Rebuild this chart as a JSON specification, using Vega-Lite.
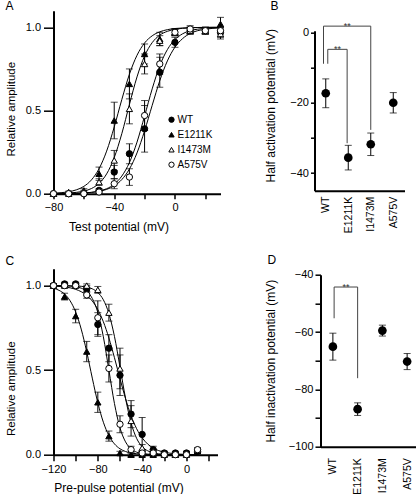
{
  "$schema": "https://vega.github.io/schema/vega-lite/v6.json",
  "autosize": {"type": "none"},
  "padding": {"left": 53.5, "top": 10.7, "right": 362.5, "bottom": 483.3},
  "spacing": 20,
  "datasets": {
    "actPts": [
      {"s":"WT","V":-80,"y":0,"e":0.005},{"s":"WT","V":-70,"y":0,"e":0.005},{"s":"WT","V":-60,"y":0,"e":0.005},{"s":"WT","V":-50,"y":0.02,"e":0.01},{"s":"WT","V":-40,"y":0.13,"e":0.04},{"s":"WT","V":-30,"y":0.24,"e":0.06},{"s":"WT","V":-20,"y":0.39,"e":0.14},{"s":"WT","V":-10,"y":0.73,"e":0.09},{"s":"WT","V":0,"y":0.91,"e":0.03},{"s":"WT","V":10,"y":0.98,"e":0.02},{"s":"WT","V":20,"y":0.98,"e":0.02},{"s":"WT","V":30,"y":0.97,"e":0.03},
      {"s":"E1211K","V":-80,"y":0,"e":0.005},{"s":"E1211K","V":-70,"y":0.01,"e":0.005},{"s":"E1211K","V":-60,"y":0.02,"e":0.01},{"s":"E1211K","V":-50,"y":0.12,"e":0.04},{"s":"E1211K","V":-40,"y":0.44,"e":0.11},{"s":"E1211K","V":-30,"y":0.66,"e":0.09},{"s":"E1211K","V":-20,"y":0.84,"e":0.06},{"s":"E1211K","V":-10,"y":0.93,"e":0.04},{"s":"E1211K","V":0,"y":0.97,"e":0.02},{"s":"E1211K","V":10,"y":0.98,"e":0.02},{"s":"E1211K","V":20,"y":0.98,"e":0.02},{"s":"E1211K","V":30,"y":1.02,"e":0.04},
      {"s":"I1473M","V":-80,"y":0,"e":0.005},{"s":"I1473M","V":-70,"y":0,"e":0.005},{"s":"I1473M","V":-60,"y":0.01,"e":0.01},{"s":"I1473M","V":-50,"y":0.07,"e":0.02},{"s":"I1473M","V":-40,"y":0.2,"e":0.06},{"s":"I1473M","V":-30,"y":0.51,"e":0.09},{"s":"I1473M","V":-20,"y":0.78,"e":0.06},{"s":"I1473M","V":-10,"y":0.92,"e":0.03},{"s":"I1473M","V":0,"y":0.97,"e":0.02},{"s":"I1473M","V":10,"y":0.98,"e":0.02},{"s":"I1473M","V":20,"y":0.98,"e":0.02},{"s":"I1473M","V":30,"y":0.96,"e":0.03},
      {"s":"A575V","V":-80,"y":0,"e":0.005},{"s":"A575V","V":-70,"y":0,"e":0.005},{"s":"A575V","V":-60,"y":0,"e":0.005},{"s":"A575V","V":-50,"y":0.01,"e":0.01},{"s":"A575V","V":-40,"y":0.06,"e":0.03},{"s":"A575V","V":-30,"y":0.1,"e":0.05},{"s":"A575V","V":-20,"y":0.47,"e":0.09},{"s":"A575V","V":-10,"y":0.78,"e":0.06},{"s":"A575V","V":0,"y":0.97,"e":0.02},{"s":"A575V","V":10,"y":0.99,"e":0.02},{"s":"A575V","V":20,"y":0.98,"e":0.02},{"s":"A575V","V":30,"y":0.98,"e":0.02}
    ],
    "actFit": [
      {"s":"E1211K","V":-80,"y":0.003},{"s":"E1211K","V":-75,"y":0.006},{"s":"E1211K","V":-70,"y":0.012},{"s":"E1211K","V":-65,"y":0.023},{"s":"E1211K","V":-60,"y":0.044},{"s":"E1211K","V":-55,"y":0.083},{"s":"E1211K","V":-50,"y":0.15},{"s":"E1211K","V":-45,"y":0.256},{"s":"E1211K","V":-40,"y":0.401},{"s":"E1211K","V":-35,"y":0.566},{"s":"E1211K","V":-30,"y":0.718},{"s":"E1211K","V":-25,"y":0.832},{"s":"E1211K","V":-20,"y":0.906},{"s":"E1211K","V":-15,"y":0.949},{"s":"E1211K","V":-10,"y":0.973},{"s":"E1211K","V":-5,"y":0.986},{"s":"E1211K","V":0,"y":0.993},{"s":"E1211K","V":5,"y":0.996},{"s":"E1211K","V":10,"y":0.998},{"s":"E1211K","V":15,"y":0.999},{"s":"E1211K","V":20,"y":1.0},{"s":"E1211K","V":25,"y":1.0},{"s":"E1211K","V":30,"y":1.0},
      {"s":"I1473M","V":-80,"y":0.001},{"s":"I1473M","V":-75,"y":0.002},{"s":"I1473M","V":-70,"y":0.004},{"s":"I1473M","V":-65,"y":0.008},{"s":"I1473M","V":-60,"y":0.016},{"s":"I1473M","V":-55,"y":0.031},{"s":"I1473M","V":-50,"y":0.062},{"s":"I1473M","V":-45,"y":0.119},{"s":"I1473M","V":-40,"y":0.217},{"s":"I1473M","V":-35,"y":0.361},{"s":"I1473M","V":-30,"y":0.536},{"s":"I1473M","V":-25,"y":0.702},{"s":"I1473M","V":-20,"y":0.828},{"s":"I1473M","V":-15,"y":0.908},{"s":"I1473M","V":-10,"y":0.953},{"s":"I1473M","V":-5,"y":0.976},{"s":"I1473M","V":0,"y":0.988},{"s":"I1473M","V":5,"y":0.994},{"s":"I1473M","V":10,"y":0.997},{"s":"I1473M","V":15,"y":0.999},{"s":"I1473M","V":20,"y":0.999},{"s":"I1473M","V":25,"y":1.0},{"s":"I1473M","V":30,"y":1.0},
      {"s":"A575V","V":-80,"y":0.0},{"s":"A575V","V":-75,"y":0.001},{"s":"A575V","V":-70,"y":0.001},{"s":"A575V","V":-65,"y":0.002},{"s":"A575V","V":-60,"y":0.004},{"s":"A575V","V":-55,"y":0.008},{"s":"A575V","V":-50,"y":0.016},{"s":"A575V","V":-45,"y":0.03},{"s":"A575V","V":-40,"y":0.057},{"s":"A575V","V":-35,"y":0.106},{"s":"A575V","V":-30,"y":0.187},{"s":"A575V","V":-25,"y":0.31},{"s":"A575V","V":-20,"y":0.467},{"s":"A575V","V":-15,"y":0.63},{"s":"A575V","V":-10,"y":0.769},{"s":"A575V","V":-5,"y":0.866},{"s":"A575V","V":0,"y":0.926},{"s":"A575V","V":5,"y":0.961},{"s":"A575V","V":10,"y":0.98},{"s":"A575V","V":15,"y":0.989},{"s":"A575V","V":20,"y":0.995},{"s":"A575V","V":25,"y":0.997},{"s":"A575V","V":30,"y":0.999},
      {"s":"WT","V":-80,"y":0.0},{"s":"WT","V":-75,"y":0.001},{"s":"WT","V":-70,"y":0.001},{"s":"WT","V":-65,"y":0.002},{"s":"WT","V":-60,"y":0.004},{"s":"WT","V":-55,"y":0.008},{"s":"WT","V":-50,"y":0.014},{"s":"WT","V":-45,"y":0.026},{"s":"WT","V":-40,"y":0.047},{"s":"WT","V":-35,"y":0.085},{"s":"WT","V":-30,"y":0.148},{"s":"WT","V":-25,"y":0.245},{"s":"WT","V":-20,"y":0.378},{"s":"WT","V":-15,"y":0.531},{"s":"WT","V":-10,"y":0.679},{"s":"WT","V":-5,"y":0.798},{"s":"WT","V":0,"y":0.881},{"s":"WT","V":5,"y":0.932},{"s":"WT","V":10,"y":0.963},{"s":"WT","V":15,"y":0.98},{"s":"WT","V":20,"y":0.989},{"s":"WT","V":25,"y":0.994},{"s":"WT","V":30,"y":0.997}
    ],
    "inPts": [
      {"s":"WT","V":-120,"y":1.0,"e":0.01},{"s":"WT","V":-110,"y":1.01,"e":0.01},{"s":"WT","V":-100,"y":1.01,"e":0.01},{"s":"WT","V":-90,"y":0.98,"e":0.02},{"s":"WT","V":-80,"y":0.77,"e":0.07},{"s":"WT","V":-70,"y":0.63,"e":0.08},{"s":"WT","V":-60,"y":0.47,"e":0.12},{"s":"WT","V":-50,"y":0.24,"e":0.08},{"s":"WT","V":-40,"y":0.12,"e":0.1},{"s":"WT","V":-30,"y":0.03,"e":0.02},{"s":"WT","V":-20,"y":0.01,"e":0.01},{"s":"WT","V":-10,"y":0.01,"e":0.01},{"s":"WT","V":0,"y":0.01,"e":0.01},{"s":"WT","V":10,"y":0.02,"e":0.01},
      {"s":"E1211K","V":-120,"y":1.0,"e":0.01},{"s":"E1211K","V":-110,"y":0.935,"e":0.02},{"s":"E1211K","V":-100,"y":0.82,"e":0.04},{"s":"E1211K","V":-90,"y":0.61,"e":0.06},{"s":"E1211K","V":-80,"y":0.31,"e":0.06},{"s":"E1211K","V":-70,"y":0.11,"e":0.03},{"s":"E1211K","V":-60,"y":0.01,"e":0.01},{"s":"E1211K","V":-50,"y":0.0,"e":0.01},{"s":"E1211K","V":-40,"y":0.0,"e":0.01},{"s":"E1211K","V":-30,"y":0.0,"e":0.01},{"s":"E1211K","V":-20,"y":0.0,"e":0.01},{"s":"E1211K","V":-10,"y":0.0,"e":0.01},{"s":"E1211K","V":0,"y":0.0,"e":0.01},{"s":"E1211K","V":10,"y":0.02,"e":0.01},
      {"s":"I1473M","V":-120,"y":1.0,"e":0.01},{"s":"I1473M","V":-110,"y":1.0,"e":0.01},{"s":"I1473M","V":-100,"y":1.0,"e":0.01},{"s":"I1473M","V":-90,"y":1.0,"e":0.01},{"s":"I1473M","V":-80,"y":0.975,"e":0.02},{"s":"I1473M","V":-70,"y":0.84,"e":0.05},{"s":"I1473M","V":-60,"y":0.51,"e":0.12},{"s":"I1473M","V":-50,"y":0.2,"e":0.09},{"s":"I1473M","V":-40,"y":0.04,"e":0.02},{"s":"I1473M","V":-30,"y":0.02,"e":0.01},{"s":"I1473M","V":-20,"y":0.01,"e":0.01},{"s":"I1473M","V":-10,"y":0.0,"e":0.01},{"s":"I1473M","V":0,"y":0.01,"e":0.01},{"s":"I1473M","V":10,"y":0.03,"e":0.01},
      {"s":"A575V","V":-120,"y":1.0,"e":0.01},{"s":"A575V","V":-110,"y":1.0,"e":0.01},{"s":"A575V","V":-100,"y":1.0,"e":0.01},{"s":"A575V","V":-90,"y":0.945,"e":0.02},{"s":"A575V","V":-80,"y":0.81,"e":0.1},{"s":"A575V","V":-70,"y":0.51,"e":0.08},{"s":"A575V","V":-60,"y":0.18,"e":0.05},{"s":"A575V","V":-50,"y":0.03,"e":0.02},{"s":"A575V","V":-40,"y":0.01,"e":0.01},{"s":"A575V","V":-30,"y":0.01,"e":0.01},{"s":"A575V","V":-20,"y":0.0,"e":0.01},{"s":"A575V","V":-10,"y":0.0,"e":0.01},{"s":"A575V","V":0,"y":0.0,"e":0.01},{"s":"A575V","V":10,"y":0.03,"e":0.01}
    ],
    "inFit": [
      {"s":"WT","V":-120,"y":0.997},{"s":"WT","V":-115,"y":0.995},{"s":"WT","V":-110,"y":0.992},{"s":"WT","V":-105,"y":0.987},{"s":"WT","V":-100,"y":0.978},{"s":"WT","V":-95,"y":0.964},{"s":"WT","V":-90,"y":0.943},{"s":"WT","V":-85,"y":0.909},{"s":"WT","V":-80,"y":0.858},{"s":"WT","V":-75,"y":0.786},{"s":"WT","V":-70,"y":0.69},{"s":"WT","V":-65,"y":0.574},{"s":"WT","V":-60,"y":0.45},{"s":"WT","V":-55,"y":0.332},{"s":"WT","V":-50,"y":0.231},{"s":"WT","V":-45,"y":0.154},{"s":"WT","V":-40,"y":0.1},{"s":"WT","V":-35,"y":0.063},{"s":"WT","V":-30,"y":0.039},{"s":"WT","V":-25,"y":0.024},{"s":"WT","V":-20,"y":0.015},{"s":"WT","V":-15,"y":0.009},{"s":"WT","V":-10,"y":0.006},{"s":"WT","V":-5,"y":0.003},{"s":"WT","V":0,"y":0.002},{"s":"WT","V":5,"y":0.001},{"s":"WT","V":10,"y":0.001},
      {"s":"E1211K","V":-120,"y":0.985},{"s":"E1211K","V":-115,"y":0.972},{"s":"E1211K","V":-110,"y":0.95},{"s":"E1211K","V":-105,"y":0.91},{"s":"E1211K","V":-100,"y":0.844},{"s":"E1211K","V":-95,"y":0.743},{"s":"E1211K","V":-90,"y":0.608},{"s":"E1211K","V":-85,"y":0.453},{"s":"E1211K","V":-80,"y":0.307},{"s":"E1211K","V":-75,"y":0.192},{"s":"E1211K","V":-70,"y":0.113},{"s":"E1211K","V":-65,"y":0.064},{"s":"E1211K","V":-60,"y":0.035},{"s":"E1211K","V":-55,"y":0.019},{"s":"E1211K","V":-50,"y":0.01},{"s":"E1211K","V":-45,"y":0.006},{"s":"E1211K","V":-40,"y":0.003},{"s":"E1211K","V":-35,"y":0.002},{"s":"E1211K","V":-30,"y":0.001},{"s":"E1211K","V":-25,"y":0.0},{"s":"E1211K","V":-20,"y":0.0},{"s":"E1211K","V":-15,"y":0.0},{"s":"E1211K","V":-10,"y":0.0},{"s":"E1211K","V":-5,"y":0.0},{"s":"E1211K","V":0,"y":0.0},{"s":"E1211K","V":5,"y":0.0},{"s":"E1211K","V":10,"y":0.0},
      {"s":"I1473M","V":-120,"y":1.0},{"s":"I1473M","V":-115,"y":1.0},{"s":"I1473M","V":-110,"y":1.0},{"s":"I1473M","V":-105,"y":0.999},{"s":"I1473M","V":-100,"y":0.998},{"s":"I1473M","V":-95,"y":0.996},{"s":"I1473M","V":-90,"y":0.991},{"s":"I1473M","V":-85,"y":0.981},{"s":"I1473M","V":-80,"y":0.959},{"s":"I1473M","V":-75,"y":0.916},{"s":"I1473M","V":-70,"y":0.834},{"s":"I1473M","V":-65,"y":0.7},{"s":"I1473M","V":-60,"y":0.519},{"s":"I1473M","V":-55,"y":0.334},{"s":"I1473M","V":-50,"y":0.188},{"s":"I1473M","V":-45,"y":0.097},{"s":"I1473M","V":-40,"y":0.047},{"s":"I1473M","V":-35,"y":0.023},{"s":"I1473M","V":-30,"y":0.011},{"s":"I1473M","V":-25,"y":0.005},{"s":"I1473M","V":-20,"y":0.002},{"s":"I1473M","V":-15,"y":0.001},{"s":"I1473M","V":-10,"y":0.001},{"s":"I1473M","V":-5,"y":0.0},{"s":"I1473M","V":0,"y":0.0},{"s":"I1473M","V":5,"y":0.0},{"s":"I1473M","V":10,"y":0.0},
      {"s":"A575V","V":-120,"y":1.0},{"s":"A575V","V":-115,"y":0.999},{"s":"A575V","V":-110,"y":0.999},{"s":"A575V","V":-105,"y":0.997},{"s":"A575V","V":-100,"y":0.993},{"s":"A575V","V":-95,"y":0.985},{"s":"A575V","V":-90,"y":0.966},{"s":"A575V","V":-85,"y":0.924},{"s":"A575V","V":-80,"y":0.841},{"s":"A575V","V":-75,"y":0.697},{"s":"A575V","V":-70,"y":0.5},{"s":"A575V","V":-65,"y":0.303},{"s":"A575V","V":-60,"y":0.159},{"s":"A575V","V":-55,"y":0.076},{"s":"A575V","V":-50,"y":0.035},{"s":"A575V","V":-45,"y":0.015},{"s":"A575V","V":-40,"y":0.007},{"s":"A575V","V":-35,"y":0.003},{"s":"A575V","V":-30,"y":0.001},{"s":"A575V","V":-25,"y":0.001},{"s":"A575V","V":-20,"y":0.0},{"s":"A575V","V":-15,"y":0.0},{"s":"A575V","V":-10,"y":0.0},{"s":"A575V","V":-5,"y":0.0},{"s":"A575V","V":0,"y":0.0},{"s":"A575V","V":5,"y":0.0},{"s":"A575V","V":10,"y":0.0}
    ],
    "halfAct": [
      {"pos":1,"name":"WT","v":-17.3,"err":4.1},{"pos":2,"name":"E1211K","v":-35.6,"err":3.5},{"pos":3,"name":"I1473M","v":-31.8,"err":3.2},{"pos":4,"name":"A575V","v":-20.0,"err":2.9}
    ],
    "brB": [
      {"pos":1.09,"v":-4.8,"pos2":1.95,"v2":-4.8},{"pos":1.09,"v":-4.8,"pos2":1.09,"v2":-8.9},{"pos":1.95,"v":-4.8,"pos2":1.95,"v2":-31.5},
      {"pos":0.9,"v":1.8,"pos2":3.0,"v2":1.8},{"pos":0.9,"v":1.8,"pos2":0.9,"v2":-8.9},{"pos":3.0,"v":1.8,"pos2":3.0,"v2":-27.7}
    ],
    "sigB": [{"pos":1.52,"v":-5.65,"t":"**"},{"pos":1.95,"v":0.9,"t":"**"}],
    "halfIn": [
      {"pos":1,"name":"WT","v":-65.1,"err":4.7},{"pos":2,"name":"E1211K","v":-86.9,"err":2.2},{"pos":3,"name":"I1473M","v":-59.5,"err":1.9},{"pos":4,"name":"A575V","v":-70.3,"err":2.8}
    ],
    "brD": [
      {"pos":1.05,"v":-44.3,"pos2":2.0,"v2":-44.3},{"pos":1.05,"v":-44.3,"pos2":1.05,"v2":-55.2},{"pos":2.0,"v":-44.3,"pos2":2.0,"v2":-76.1}
    ],
    "sigD": [{"pos":1.53,"v":-45.45,"t":"**"}]
  },
  "vconcat": [
    {
      "bounds": "flush",
      "spacing": 94,
      "hconcat": [
        {
          "width": 167,
          "height": 183,
          "title": {"text": "A", "frame": "bounds", "offset": -2.5},
          "encoding": {
            "x": {"field": "V", "type": "quantitative", "scale": {"domain": [-80, 30], "nice": false, "zero": false},
              "axis": {"values": [-80, -60, -40, -20, 0, 20], "labelExpr": "datum.value % 40 == 0 ? datum.label : ''", "title": "Test potential (mV)", "titleX": 65, "titleY": 27.5, "tickSize": 5, "labelPadding": 2.5}},
            "y": {"field": "y", "type": "quantitative", "scale": {"domain": [0, 1.1], "nice": false, "zero": false},
              "axis": {"values": [0, 0.5, 1], "format": ".1f", "title": "Relative amplitude", "titleX": -37, "titleY": 98, "titleFontSize": 11.5, "tickSize": 10, "labelPadding": 3}}
          },
          "layer": [
            {"data": {"name": "actFit"}, "mark": {"type": "line", "color": "black", "strokeWidth": 1, "interpolate": "monotone"}, "encoding": {"detail": {"field": "s"}}},
            {"data": {"name": "actPts"}, "mark": {"type": "errorbar", "ticks": {"size": 7}, "thickness": 1, "color": "black"}, "encoding": {"yError": {"field": "e"}, "detail": {"field": "s"}}},
            {"data": {"name": "actPts"}, "mark": {"type": "point", "filled": true, "strokeWidth": 1, "size": 40, "opacity": 1},
              "encoding": {
                "shape": {"field": "s", "type": "nominal", "scale": {"domain": ["WT", "E1211K", "I1473M", "A575V"], "range": ["circle", "triangle-up", "triangle-up", "circle"]}, "legend": {"title": null, "orient": "none", "legendX": 113, "legendY": 104}},
                "fill": {"field": "s", "type": "nominal", "scale": {"domain": ["WT", "E1211K", "I1473M", "A575V"], "range": ["black", "black", "white", "white"]}, "legend": {"title": null, "orient": "none", "legendX": 113, "legendY": 104}},
                "stroke": {"field": "s", "type": "nominal", "scale": {"domain": ["WT", "E1211K", "I1473M", "A575V"], "range": ["black", "black", "black", "black"]}, "legend": {"title": null, "orient": "none", "legendX": 113, "legendY": 104}}
              }}
          ]
        },
        {
          "bounds": "flush",
          "spacing": 0,
          "vconcat": [
            {"width": 90, "height": 20, "data": {"values": []}, "mark": "point", "title": {"text": "B", "frame": "group", "dx": -44, "offset": -2.5}},
            {
              "width": 90,
              "height": 160,
              "encoding": {
                "x": {"field": "pos", "type": "quantitative", "scale": {"domain": [0.5, 4.5], "nice": false, "zero": false},
                  "axis": {"values": [1, 2, 3, 4], "labelExpr": "['','WT','E1211K','I1473M','A575V'][datum.value]", "labelAngle": -90, "title": null, "ticks": false, "labelPadding": 5.5, "labelFontSize": 10.5}},
                "y": {"field": "v", "type": "quantitative", "scale": {"domain": [-45, 0.5], "nice": false, "zero": false},
                  "axis": {"values": [-40, -30, -20, -10, 0], "labelExpr": "datum.value % 20 == 0 ? datum.label : ''", "title": "Half activation potential (mV)", "titleX": -37, "titleY": 74.5, "tickSize": 4, "labelPadding": 2}}
              },
              "layer": [
                {"data": {"name": "halfAct"}, "mark": {"type": "errorbar", "ticks": {"size": 7}, "thickness": 1, "color": "black"}, "encoding": {"yError": {"field": "err"}}},
                {"data": {"name": "halfAct"}, "mark": {"type": "point", "filled": true, "color": "black", "size": 75, "opacity": 1}},
                {"data": {"name": "brB"}, "mark": {"type": "rule", "color": "#444444", "strokeWidth": 1}, "encoding": {"x2": {"field": "pos2"}, "y2": {"field": "v2"}}},
                {"data": {"name": "sigB"}, "mark": {"type": "text", "baseline": "alphabetic", "fontSize": 9, "color": "#333333"}, "encoding": {"text": {"field": "t"}}}
              ]
            }
          ]
        }
      ]
    },
    {
      "bounds": "flush",
      "spacing": 103,
      "hconcat": [
        {
          "width": 164,
          "height": 186,
          "title": {"text": "C", "frame": "bounds", "offset": 1},
          "encoding": {
            "x": {"field": "V", "type": "quantitative", "scale": {"domain": [-120, 28], "nice": false, "zero": false},
              "axis": {"values": [-120, -100, -80, -60, -40, -20, 0, 20], "labelExpr": "datum.value % 40 == 0 ? datum.label : ''", "title": "Pre-pulse potential (mV)", "titleX": 65, "titleY": 28, "tickSize": 6, "labelPadding": 3}},
            "y": {"field": "y", "type": "quantitative", "scale": {"domain": [0, 1.1], "nice": false, "zero": false},
              "axis": {"values": [0, 0.5, 1], "format": ".1f", "title": "Relative amplitude", "titleX": -37, "titleY": 119.5, "titleFontSize": 11.5, "tickSize": 10, "labelPadding": 3}}
          },
          "layer": [
            {"data": {"name": "inFit"}, "mark": {"type": "line", "color": "black", "strokeWidth": 1, "interpolate": "monotone"}, "encoding": {"detail": {"field": "s"}}},
            {"data": {"name": "inPts"}, "mark": {"type": "errorbar", "ticks": {"size": 7}, "thickness": 1, "color": "black"}, "encoding": {"yError": {"field": "e"}, "detail": {"field": "s"}}},
            {"data": {"name": "inPts"}, "mark": {"type": "point", "filled": true, "strokeWidth": 1, "size": 40, "opacity": 1},
              "encoding": {
                "shape": {"field": "s", "type": "nominal", "scale": {"domain": ["WT", "E1211K", "I1473M", "A575V"], "range": ["circle", "triangle-up", "triangle-up", "circle"]}, "legend": {"title": null, "orient": "none", "legendX": 101, "legendY": 81}},
                "fill": {"field": "s", "type": "nominal", "scale": {"domain": ["WT", "E1211K", "I1473M", "A575V"], "range": ["black", "black", "white", "white"]}, "legend": {"title": null, "orient": "none", "legendX": 101, "legendY": 81}},
                "stroke": {"field": "s", "type": "nominal", "scale": {"domain": ["WT", "E1211K", "I1473M", "A575V"], "range": ["black", "black", "black", "black"]}, "legend": {"title": null, "orient": "none", "legendX": 101, "legendY": 81}}
              }}
          ]
        },
        {
          "bounds": "flush",
          "spacing": 0,
          "vconcat": [
            {"width": 99, "height": 6, "data": {"values": []}, "mark": "point", "title": {"text": "D", "frame": "group", "dx": -53, "offset": 2}},
            {
              "width": 99,
              "height": 172,
              "encoding": {
                "x": {"field": "pos", "type": "quantitative", "scale": {"domain": [0.5, 4.5], "nice": false, "zero": false},
                  "axis": {"values": [1, 2, 3, 4], "labelExpr": "['','WT','E1211K','I1473M','A575V'][datum.value]", "labelAngle": -90, "title": null, "ticks": false, "labelPadding": 11, "labelFontSize": 10.5}},
                "y": {"field": "v", "type": "quantitative", "scale": {"domain": [-100, -40], "nice": false, "zero": false},
                  "axis": {"values": [-100, -90, -80, -70, -60, -50, -40], "labelExpr": "datum.value % 20 == 0 ? datum.label : ''", "title": "Half inactivation potential (mV)", "titleX": -43, "tickSize": 5.5, "labelPadding": 2}}
              },
              "layer": [
                {"data": {"name": "halfIn"}, "mark": {"type": "errorbar", "ticks": {"size": 7}, "thickness": 1, "color": "black"}, "encoding": {"yError": {"field": "err"}}},
                {"data": {"name": "halfIn"}, "mark": {"type": "point", "filled": true, "color": "black", "size": 75, "opacity": 1}},
                {"data": {"name": "brD"}, "mark": {"type": "rule", "color": "#444444", "strokeWidth": 1}, "encoding": {"x2": {"field": "pos2"}, "y2": {"field": "v2"}}},
                {"data": {"name": "sigD"}, "mark": {"type": "text", "baseline": "alphabetic", "fontSize": 9, "color": "#333333"}, "encoding": {"text": {"field": "t"}}}
              ]
            }
          ]
        }
      ]
    }
  ],
  "config": {
    "font": "Liberation Sans",
    "view": {"stroke": null},
    "axis": {"grid": false, "domainColor": "black", "tickColor": "black", "labelColor": "black", "titleColor": "black", "domainWidth": 2, "tickWidth": 1.5, "labelFontSize": 11, "titleFontSize": 12, "titleFontWeight": "normal", "labelFlush": false, "labelOverlap": false, "labelBound": false, "labelFont": "Liberation Sans", "titleFont": "Liberation Sans"},
    "title": {"fontSize": 12, "fontWeight": "normal", "anchor": "start", "baseline": "alphabetic", "color": "black", "font": "Liberation Sans"},
    "legend": {"labelFontSize": 10, "labelColor": "black", "symbolSize": 28, "symbolStrokeWidth": 1, "rowPadding": 5, "labelOffset": 1, "padding": 0, "labelFont": "Liberation Sans"}
  }
}
